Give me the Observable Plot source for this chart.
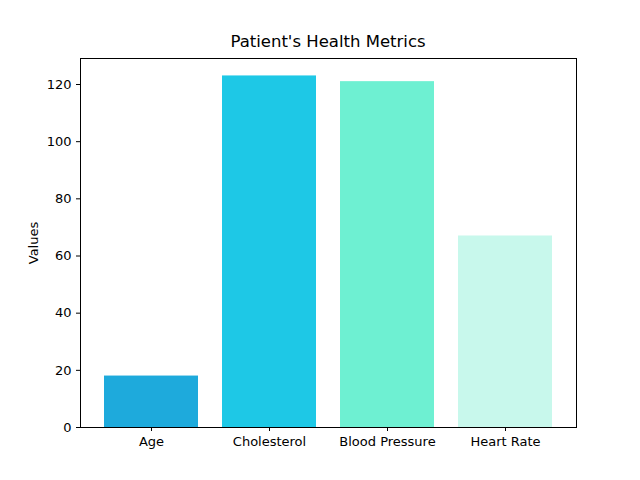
<!DOCTYPE html>
<html><head>
<script src="https://cdn.jsdelivr.net/npm/d3@7"></script>
<script src="https://cdn.jsdelivr.net/npm/@observablehq/plot@0.6"></script>
<style>
body{margin:0;background:#fff;font-family:"DejaVu Sans",sans-serif}
#title{position:absolute;left:80px;width:496px;top:32px;text-align:center;font-size:16.5px}
#chart{position:absolute;left:0;top:30px}
</style>
</head><body>
<div id="title">Patient's Health Metrics</div>
<div id="chart"></div>
<script>
var metrics = ["Age", "Cholesterol", "Blood Pressure", "Heart Rate"]
var values = [18, 123, 121, 67]
var colors = ["#1eaadc", "#1ec8e6", "#6ef0d2", "#c8f8ec"]
var yTicks = [0, 20, 40, 60, 80, 100, 120]

var data = metrics.map((m, i) => ({metric: m, value: values[i], color: colors[i]}))

var chart = Plot.plot({
  width: 640,
  height: 450,
  marginTop: 28,
  marginBottom: 53,
  marginLeft: 80,
  marginRight: 64,
  style: {fontSize: "13px", fontFamily: "DejaVu Sans", color: "#000"},
  x: {domain: metrics, label: null, paddingInner: 0.2, paddingOuter: 0.19, tickSize: 4},
  y: {domain: [0, 129.1], ticks: yTicks, label: "Values", labelAnchor: "center", labelArrow: "none", labelOffset: 52, tickSize: 4},
  marks: [
    Plot.barY(data, {x: "metric", y: "value", fill: "color"}),
    Plot.frame({stroke: "#000"})
  ]
})
d3.select('#chart').append(() => chart)
</script>
</body></html>
